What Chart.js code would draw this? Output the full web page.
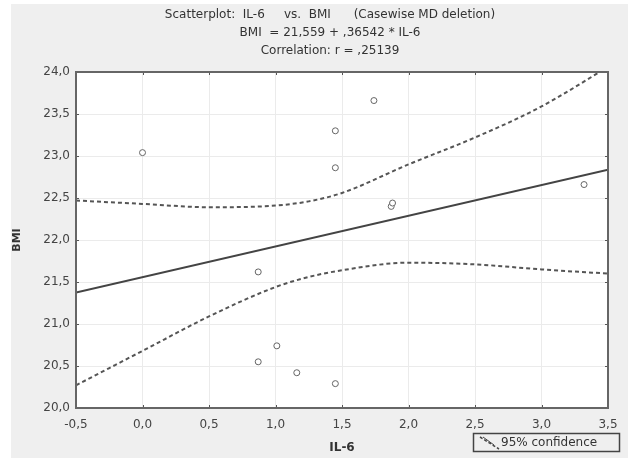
<!DOCTYPE html>
<html>
<head>
<meta charset="utf-8">
<script src="https://cdn.jsdelivr.net/npm/chart.js@4/dist/chart.umd.min.js"></script>
<style>
  body { margin: 0; background: #fff; }
  #wrap { width: 633px; height: 458px; position: relative; }
</style>
</head>
<body>
<div id="wrap"><canvas id="scatter"></canvas></div>
<script>
// data
const il6 = [0.0, 0.87, 0.87, 1.01, 1.16, 1.45, 1.45, 1.45, 1.74, 1.87, 1.88, 3.32];
const bmi = [23.04, 21.62, 20.55, 20.74, 20.42, 20.29, 22.86, 23.30, 23.66, 22.40, 22.44, 22.66];

// regression line ends
const fitX = [-0.5, 3.5];
const fitY = [21.376, 22.838];

// 95% confidence band
const bandX  = [-0.5, 0.0, 0.5, 1.0, 1.25, 1.5, 2.0, 2.5, 3.0, 3.5];
const upperY = [22.47, 22.43, 22.39, 22.41, 22.46, 22.56, 22.90, 23.22, 23.59, 24.06];
const lowerY = [20.27, 20.68, 21.09, 21.44, 21.56, 21.64, 21.73, 21.71, 21.65, 21.60];

const titleLines = [
  "Scatterplot:  IL-6     vs.  BMI      (Casewise MD deletion)",
  "BMI  = 21,559 + ,36542 * IL-6",
  "Correlation: r = ,25139"
];

const FONT = "'DejaVu Sans', Verdana, sans-serif";
const pts = (xs, ys) => xs.map((x, i) => ({ x: x, y: ys[i] }));
const comma = v => v.toFixed(1).replace(".", ",");

// gray panel + white plot area + the three title lines
const panelBg = {
  id: "panelBg",
  beforeDraw(chart) {
    const c = chart.ctx, a = chart.chartArea;
    c.save();
    c.fillStyle = "#efefef";
    c.fillRect(11, 4, 617, 454);
    c.fillStyle = "#ffffff";
    c.fillRect(a.left, a.top, a.right - a.left, a.bottom - a.top);

    c.fillStyle = "#333";
    c.font = "12px " + FONT;
    c.textAlign = "center";
    c.textBaseline = "middle";
    titleLines.forEach((t, i) => c.fillText(t, 330, 15 + i * 18));
    c.restore();
  }
};

// box round the plot, inward ticks, and the small legend box
const frameAndLegend = {
  id: "frameAndLegend",
  afterDraw(chart) {
    const c = chart.ctx, a = chart.chartArea;
    const xs = chart.scales.x, ys = chart.scales.y;
    c.save();
    c.strokeStyle = "#555";
    c.lineWidth = 1;
    xs.ticks.forEach(t => {
      const px = Math.round(xs.getPixelForValue(t.value)) + 0.5;
      c.beginPath(); c.moveTo(px, a.bottom); c.lineTo(px, a.bottom - 3); c.stroke();
      c.beginPath(); c.moveTo(px, a.top); c.lineTo(px, a.top + 3); c.stroke();
    });
    ys.ticks.forEach(t => {
      const py = Math.round(ys.getPixelForValue(t.value)) + 0.5;
      c.beginPath(); c.moveTo(a.left, py); c.lineTo(a.left + 3, py); c.stroke();
      c.beginPath(); c.moveTo(a.right, py); c.lineTo(a.right - 3, py); c.stroke();
    });
    c.lineWidth = 2;
    c.strokeStyle = "#666";
    c.strokeRect(a.left, a.top, a.right - a.left, a.bottom - a.top);

    // legend
    c.lineWidth = 1.5;
    c.strokeStyle = "#444";
    c.strokeRect(473.5, 433.5, 146, 18);
    c.setLineDash([3, 2]);
    c.beginPath(); c.moveTo(480, 437); c.lineTo(499, 449); c.stroke();
    c.setLineDash([]);
    c.lineWidth = 1;
    c.beginPath(); c.moveTo(483, 437); c.lineTo(494, 445); c.stroke();
    c.fillStyle = "#333";
    c.font = "12px " + FONT;
    c.textBaseline = "middle";
    c.fillText("95% confidence", 501, 443);
    c.restore();
  }
};

new Chart(document.getElementById("scatter"), {
  type: "scatter",
  data: {
    datasets: [
      {
        label: "data",
        data: pts(il6, bmi),
        pointStyle: "circle",
        pointRadius: 3,
        pointBorderWidth: 1,
        pointBorderColor: "#666",
        pointBackgroundColor: "#fff"
      },
      {
        label: "fit",
        type: "line",
        data: pts(fitX, fitY),
        borderColor: "#444",
        borderWidth: 2,
        pointRadius: 0
      },
      {
        label: "upper",
        type: "line",
        data: pts(bandX, upperY),
        borderColor: "#555",
        borderWidth: 2,
        borderDash: [4, 3],
        cubicInterpolationMode: "monotone",
        pointRadius: 0
      },
      {
        label: "lower",
        type: "line",
        data: pts(bandX, lowerY),
        borderColor: "#555",
        borderWidth: 2,
        borderDash: [4, 3],
        cubicInterpolationMode: "monotone",
        pointRadius: 0
      }
    ]
  },
  options: {
    responsive: true,
    maintainAspectRatio: false,
    animation: false,
    layout: { padding: { left: 11, right: 25, top: 72, bottom: 0 } },
    plugins: {
      legend: { display: false },
      tooltip: { enabled: false },
      title: { display: false }
    },
    scales: {
      x: {
        type: "linear",
        min: -0.5,
        max: 3.5,
        afterFit: s => { s.height = 50; },
        ticks: {
          stepSize: 0.5,
          padding: 10,
          color: "#444",
          font: { family: FONT, size: 12 },
          callback: v => comma(v)
        },
        grid: { color: "#ebebeb", drawTicks: false },
        border: { display: false },
        title: {
          display: true,
          text: "IL-6",
          color: "#333",
          font: { family: FONT, size: 12, weight: "bold" },
          padding: { top: 4, bottom: 3 }
        }
      },
      y: {
        min: 20,
        max: 24,
        afterFit: s => { s.width = 65; },
        ticks: {
          stepSize: 0.5,
          padding: 6,
          color: "#444",
          font: { family: FONT, size: 12 },
          callback: v => comma(v)
        },
        grid: { color: "#ebebeb", drawTicks: false },
        border: { display: false },
        title: {
          display: true,
          text: "BMI",
          color: "#333",
          font: { family: FONT, size: 11, weight: "bold" },
          padding: { top: 0, bottom: 4 }
        }
      }
    }
  },
  plugins: [panelBg, frameAndLegend]
});
</script>
</body>
</html>
